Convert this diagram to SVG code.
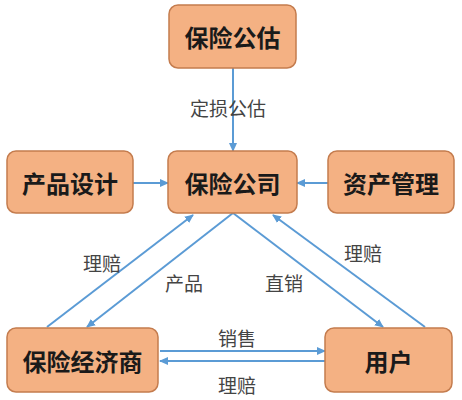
<svg xmlns="http://www.w3.org/2000/svg" width="462" height="400" viewBox="0 0 462 400">
<defs>
<marker id="ah" markerWidth="10" markerHeight="10" refX="8" refY="5" orient="auto" markerUnits="userSpaceOnUse">
<path d="M0,1 L9,5 L0,9 Z" fill="#5B9BD5"/>
</marker>
<style>
.box{fill:#F4B183;stroke:#C47C4E;stroke-width:1.5}
.bt{font-family:"Noto Sans CJK SC","Liberation Sans",sans-serif;font-size:24px;font-weight:bold;fill:#1a1a1a;text-anchor:middle;dominant-baseline:central}
.lt{font-family:"Noto Sans CJK SC","Liberation Sans",sans-serif;font-size:19px;fill:#444;text-anchor:middle;dominant-baseline:central}
.ln{stroke:#5B9BD5;stroke-width:2;fill:none;marker-end:url(#ah)}
</style>
</defs>
<rect width="462" height="400" fill="#fff"/>
<g id="connectors">
<line class="ln" x1="233" y1="68" x2="233" y2="151"/>
<line class="ln" x1="133" y1="183" x2="168" y2="183"/>
<line class="ln" x1="328" y1="183" x2="297" y2="183"/>
<line class="ln" x1="47" y1="327" x2="193" y2="215"/>
<line class="ln" x1="233" y1="213" x2="87" y2="327"/>
<line class="ln" x1="233" y1="213" x2="383" y2="327"/>
<line class="ln" x1="425" y1="327" x2="273" y2="215"/>
<line class="ln" x1="160" y1="351" x2="325" y2="351"/>
<line class="ln" x1="325" y1="361" x2="160" y2="361"/>
</g>
<g id="labels">
<text class="lt" x="228" y="107">定损公估</text>
<text class="lt" x="102" y="262">理赔</text>
<text class="lt" x="184" y="282">产品</text>
<text class="lt" x="284" y="282">直销</text>
<text class="lt" x="363" y="252">理赔</text>
<text class="lt" x="237" y="337">销售</text>
<text class="lt" x="237" y="384">理赔</text>
</g>
<g id="n-gonggu"><rect class="box" x="169" y="5" width="127" height="63" rx="9"/><text class="bt" x="232.5" y="36.5">保险公估</text></g>
<g id="n-gongsi"><rect class="box" x="168" y="151" width="129" height="62" rx="9"/><text class="bt" x="232.5" y="182">保险公司</text></g>
<g id="n-sheji"><rect class="box" x="7" y="151" width="126" height="62" rx="9"/><text class="bt" x="70" y="182">产品设计</text></g>
<g id="n-guanli"><rect class="box" x="328" y="151" width="126" height="62" rx="9"/><text class="bt" x="391" y="182">资产管理</text></g>
<g id="n-jingji"><rect class="box" x="7" y="328" width="151" height="64" rx="9"/><text class="bt" x="82.5" y="360">保险经济商</text></g>
<g id="n-yonghu"><rect class="box" x="325" y="328" width="127" height="64" rx="9"/><text class="bt" x="388.5" y="360">用户</text></g>
</svg>
